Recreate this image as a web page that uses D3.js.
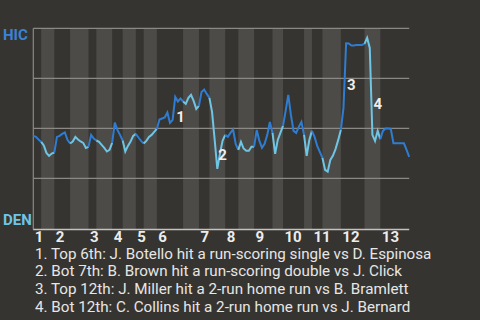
<!DOCTYPE html>
<html>
<head>
<meta charset="utf-8">
<script src="https://cdn.jsdelivr.net/npm/d3@7"></script>
<style>
body { margin: 0; background: #363430; }
svg { display: block; font-family: Roboto, sans-serif; }
</style>
</head>
<body>
<script>
const w = 480
const h = 320

const teams = ["HIC", "DEN"]
const innings = ["1","2","3","4","5","6","7","8","9","10","11","12","13"]
// plays in each half inning: top 1st, bottom 1st, top 2nd, ...
const halfPlays = [3,5, 6,7, 3,6, 4,5, 3,5, 10,6, 4,6, 5,6, 7,4, 8,3, 4,7, 9,6, 11]
// HIC win probability (%) before the first play and after each play
const winProb = [
	46.2, 45.7, 44.4, 43.2, 41.4, 37.7, 36.2, 37.4, 37.9,
	45.7, 46.2, 47.2, 47.9, 44.2, 42.4,
	43.4, 45.7, 44.4, 43.4, 42.7, 40.2, 40.7,
	46.7, 44.9, 43.9,
	43.2, 41.7, 40.2, 38.4, 39.2, 42.7,
	52.8, 49.2, 46.7, 43.9,
	38.4, 41.2, 43.4, 46.2, 47.2,
	45.4, 43.7, 42.4,
	43.7, 45.7, 46.7, 48.2, 49.7,
	54.4, 54.9, 55.4, 57.9, 52.7, 54.2, 65.7, 63.4, 64.9, 63.4,
	62.2, 65.2, 66.7, 63.7, 59.7, 61.2,
	68.2, 69.4, 67.2, 65.2,
	58.2, 44.2, 29.7, 37.2, 43.7, 46.7,
	45.7, 47.7, 49.4, 42.2, 39.2,
	43.2, 39.9, 38.8, 38.8, 40.8, 40.8,
	49.2, 43.7, 40.2, 42.2, 46.7, 53.2, 47.7,
	37.2, 44.2, 47.7, 51.2,
	58.7, 66.7, 56.7, 48.7, 47.7, 50.7, 53.2, 46.7,
	36.2, 44.2, 48.7,
	45.7, 41.2, 38.2, 35.2,
	29.2, 28.3, 34.2, 36.4, 39.7, 44.2, 49.2,
	60.2, 92.5, 92.4, 91.4, 91.4, 91.7, 91.7, 91.7, 92.2,
	95.2, 90.2, 46.7, 43.7, 48.7, 44.6,
	48.7, 49.9, 49.9, 49.7, 42.5, 42.5, 42.5, 42.5, 42.5, 39.2, 35.7
]
const notePlays = [54, 70, 119, 129]
const notes = [
	"1. Top 6th: J. Botello hit a run-scoring single vs D. Espinosa",
	"2. Bot 7th: B. Brown hit a run-scoring double vs J. Click",
	"3. Top 12th: J. Miller hit a 2-run home run vs B. Bramlett",
	"4. Bot 12th: C. Collins hit a 2-run home run vs J. Bernard"
]

const dark = "#2f7dd2"
const light = "#6fc5e4"

// half inning ranges in play index
let halves = []
let start = 0
halfPlays.forEach((n, k) => {
	halves.push({start: start, end: start + n, top: k % 2 == 0, inning: Math.floor(k / 2)})
	start += n
})

const svg = d3.select("body").append("svg")
	.attr("width", w).attr("height", h)

const x = d3.scaleLinear().domain([0, winProb.length - 1]).range([33.3, 409.2])
const y = d3.scaleLinear().domain([0, 100]).range([228.3, 28.3])
const bottom = 229.5

// bottom half bands
svg.selectAll("rect.band")
	.data(halves.filter(d => !d.top))
	.enter().append("rect")
	.attr("x", d => x(d.start))
	.attr("width", d => x(d.end) - x(d.start))
	.attr("y", y(100))
	.attr("height", bottom - y(100))
	.attr("fill", "#4d4b48")

// grid
svg.selectAll("line.grid")
	.data([25, 50, 75, 100])
	.enter().append("line")
	.attr("x1", x(0)).attr("x2", x(winProb.length - 1))
	.attr("y1", d => y(d)).attr("y2", d => y(d))
	.attr("stroke", "#8b8985")
	.attr("stroke-width", 1.2)

svg.append("line")
	.attr("x1", x(0)).attr("x2", x(0))
	.attr("y1", y(100)).attr("y2", bottom)
	.attr("stroke", "#8b8985").attr("stroke-width", 1.2)

svg.append("line")
	.attr("x1", x(0)).attr("x2", x(winProb.length - 1))
	.attr("y1", bottom).attr("y2", bottom)
	.attr("stroke", "#c4c2bf").attr("stroke-width", 1.5)

// win probability line, coloured by half inning
const lineFun = d3.line()
	.x(i => x(i))
	.y(i => y(winProb[i]))

svg.selectAll("path.wp")
	.data(halves)
	.enter().append("path")
	.attr("d", d => lineFun(d3.range(d.start, d.end + 1)))
	.attr("fill", "none")
	.attr("stroke", d => d.top ? dark : light)
	.attr("stroke-width", 2)
	.attr("stroke-linejoin", "miter")

// event numbers
const noteDy = [13.5, 5.5, 14.3, 17.5]
svg.selectAll("text.num")
	.data(notePlays)
	.enter().append("text")
	.text((d, i) => i + 1)
	.attr("x", d => x(d) + 1)
	.attr("y", (d, i) => (y(winProb[d - 1]) + y(winProb[d])) / 2 + noteDy[i])
	.attr("font-size", "15px")
	.attr("font-weight", "bold")
	.attr("fill", "#eeeeee")

// team labels
svg.append("text").text(teams[0])
	.attr("x", 3).attr("y", 40)
	.attr("font-size", "15px").attr("font-weight", "bold")
	.attr("fill", "#3a83d6")
svg.append("text").text(teams[1])
	.attr("x", 3).attr("y", 225)
	.attr("font-size", "15px").attr("font-weight", "bold")
	.attr("fill", light)

// inning labels
svg.selectAll("text.inn")
	.data(innings)
	.enter().append("text")
	.text(d => d)
	.attr("x", (d, i) => x(halves[i * 2].start) + 1.5)
	.attr("y", 242)
	.attr("font-size", "15px")
	.attr("font-weight", "bold")
	.attr("fill", "#ececec")

// notes
svg.selectAll("text.note")
	.data(notes)
	.enter().append("text")
	.text(d => d)
	.attr("x", 35)
	.attr("y", (d, i) => 258.5 + i * 17.7)
	.attr("font-size", "15.2px")
	.attr("fill", "#e6e6e6")
</script>
</body>
</html>
